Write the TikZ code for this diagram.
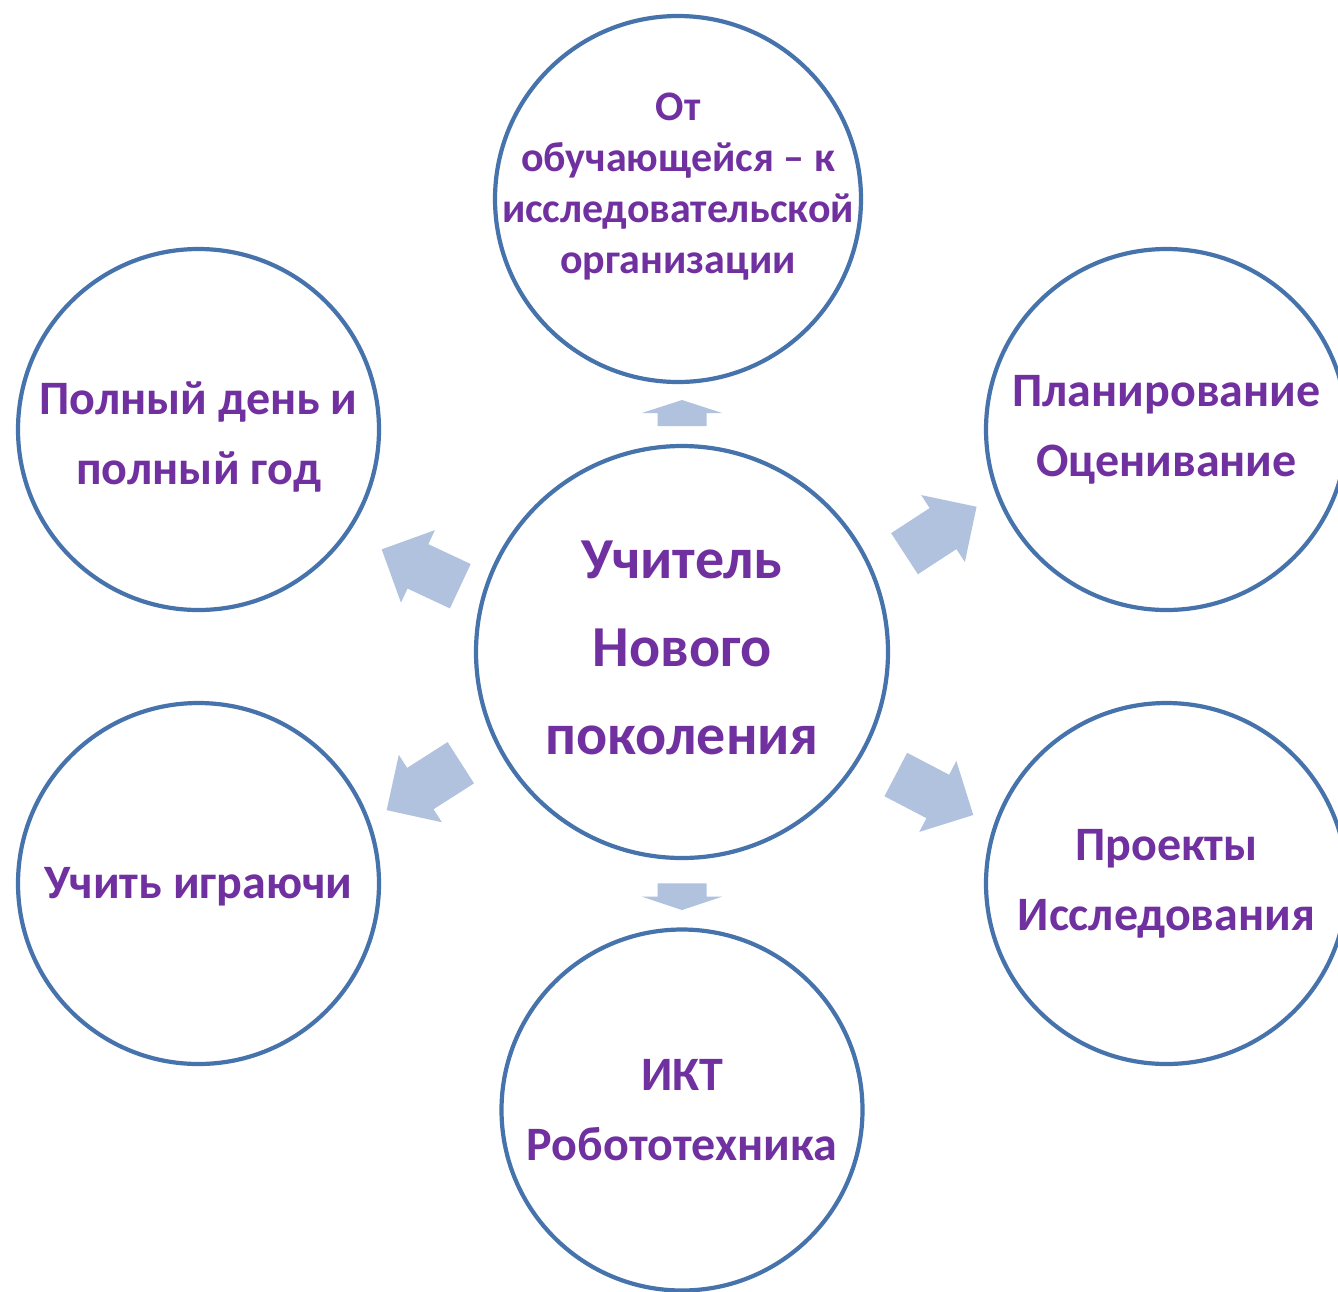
\documentclass[tikz,border=0pt]{standalone}
\usepackage{fontspec}
\setmainfont{Carlito}
\definecolor{ringblue}{HTML}{4673AB}
\definecolor{txtpurple}{HTML}{7030A0}
\definecolor{arrowfill}{HTML}{B0C2DE}
\newcommand\blockarrow[5]{%
  \fill[arrowfill, shift={(#1,#2)}, rotate=#3]
    (0,-24.5) -- ({#4-#5},-24.5) -- ({#4-#5},-40) -- (#4,0) --
    ({#4-#5},40) -- ({#4-#5},24.5) -- (0,24.5) -- cycle;}
\begin{document}
\begin{tikzpicture}[x=1pt,y=-1pt,
  ring/.style={circle, draw=ringblue, line width=4.2pt, fill=white, inner sep=0pt},
  smallring/.style={ring, minimum size=361pt},
  label/.style={text=txtpurple, align=center, inner sep=0pt},
  smalltext/.style={label, font=\fontsize{48pt}{70pt}\selectfont\bfseries},
]
\useasboundingbox (0,0) rectangle (1338,1291);
\fill[white] (0,0) rectangle (1338,1291);

% outer circles
\node[ring, minimum size=366pt] (top) at (678,199) {};
\node[smallring] (tl) at (198.5,429.5) {};
\node[smallring] (tr) at (1166.5,429.5) {};
\node[smallring] (bl) at (198.5,883.5) {};
\node[smallring] (br) at (1166.5,883.5) {};
\node[smallring] (bot) at (682,1110) {};
\node[ring, minimum size=412pt] (c) at (682,652) {};

% texts
\node[label, font=\fontsize{42pt}{51pt}\selectfont\bfseries]
  (top-t) at ([yshift=12pt]top.center) {От\\обучающейся – к\\исследовательской\\организации};
\node[smalltext] (tl-t) at ([yshift=-7pt]tl.center) {Полный день и\\полный год};
\node[smalltext] (tr-t) at (tr.center) {Планирование\\Оценивание};
\node[smalltext] (bl-t) at ([yshift=-3pt]bl.center) {Учить играючи};
\node[smalltext] (br-t) at (br.center) {Проекты\\Исследования};
\node[smalltext] (bot-t) at (bot.center) {ИКТ\\Робототехника};
\node[label, font=\fontsize{58pt}{88pt}\selectfont\bfseries]
  (c-t) at ([yshift=4pt]c.center) {Учитель\\Нового\\поколения};

% block arrows
\blockarrow{682}{426}{90}{26}{13}
\blockarrow{682}{883.3}{-90}{26.7}{13.3}
\blockarrow{460.3}{586.2}{154.9}{86.8}{40}
\blockarrow{904.5}{553.7}{33.1}{86}{40}
\blockarrow{460.8}{762.7}{212.6}{88}{40}
\blockarrow{895.8}{774.5}{-27.6}{87.4}{40}
\end{tikzpicture}
\end{document}
